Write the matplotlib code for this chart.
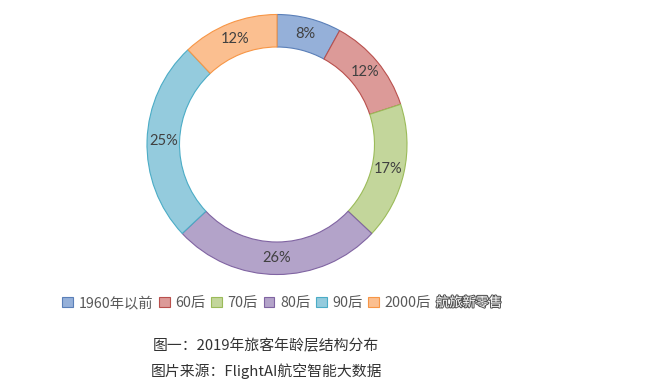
import matplotlib
matplotlib.use("Agg")
import matplotlib.pyplot as plt
from matplotlib.patches import Patch
import matplotlib.patheffects as pe

plt.rcParams['font.family'] = ['Noto Sans CJK SC', 'DejaVu Sans']

categories = ['1960年以前', '60后', '70后', '80后', '90后', '2000后']
values = [8, 12, 17, 26, 25, 12]
face_colors = ['#95b0d9', '#dc9a98', '#c3d69b', '#b3a3c9', '#94cbdd', '#fbbf90']
edge_colors = ['#5a7fb8', '#b9504d', '#9bbb59', '#8064a2', '#4bacc6', '#f79646']

W, H = 659, 392
fig = plt.figure(figsize=(W / 100, H / 100), dpi=100)
cx, cy, R = 277, 144.5, 130
ax = fig.add_axes([(cx - R) / W, (H - cy - R) / H, 2 * R / W, 2 * R / H])

wedges, texts, autotexts = ax.pie(
    values, startangle=90, counterclock=False, colors=face_colors,
    radius=1.0, autopct='%d%%', pctdistance=0.875,
    wedgeprops=dict(width=0.25, linewidth=0.8),
    textprops=dict(color='#404040', fontsize=10.5, family=['Lato', 'DejaVu Sans']))
for w, ec in zip(wedges, edge_colors):
    w.set_edgecolor(ec)
ax.set_xlim(-1, 1)
ax.set_ylim(-1, 1)
ax.set_aspect('equal')
ax.axis('off')

handles = [Patch(facecolor=fc, edgecolor=ec, linewidth=0.8) for fc, ec in zip(face_colors, edge_colors)]
leg = fig.legend(handles, categories, loc='center left', bbox_to_anchor=(55 / W, 1 - 303 / H),
                 ncol=6, frameon=False, fontsize=10.3, handlelength=0.75, handleheight=0.75,
                 handletextpad=0.4, columnspacing=0.4, borderpad=0)
for t in leg.get_texts():
    t.set_color('#595959')

# watermark overlay
fig.text(436 / W, 1 - 303 / H, '航旅新零售', fontsize=9.5, color='white', va='center', ha='left',
         path_effects=[pe.withStroke(linewidth=1.5, foreground='#555555')])

fig.text(266 / W, 1 - 346 / H, '图一：2019年旅客年龄层结构分布', fontsize=10.7, color='#333333',
         ha='center', va='center')
fig.text(266 / W, 1 - 371 / H, '图片来源：FlightAI航空智能大数据', fontsize=10.7, color='#333333',
         ha='center', va='center')

fig.savefig('out.png', dpi=100, facecolor='white')
